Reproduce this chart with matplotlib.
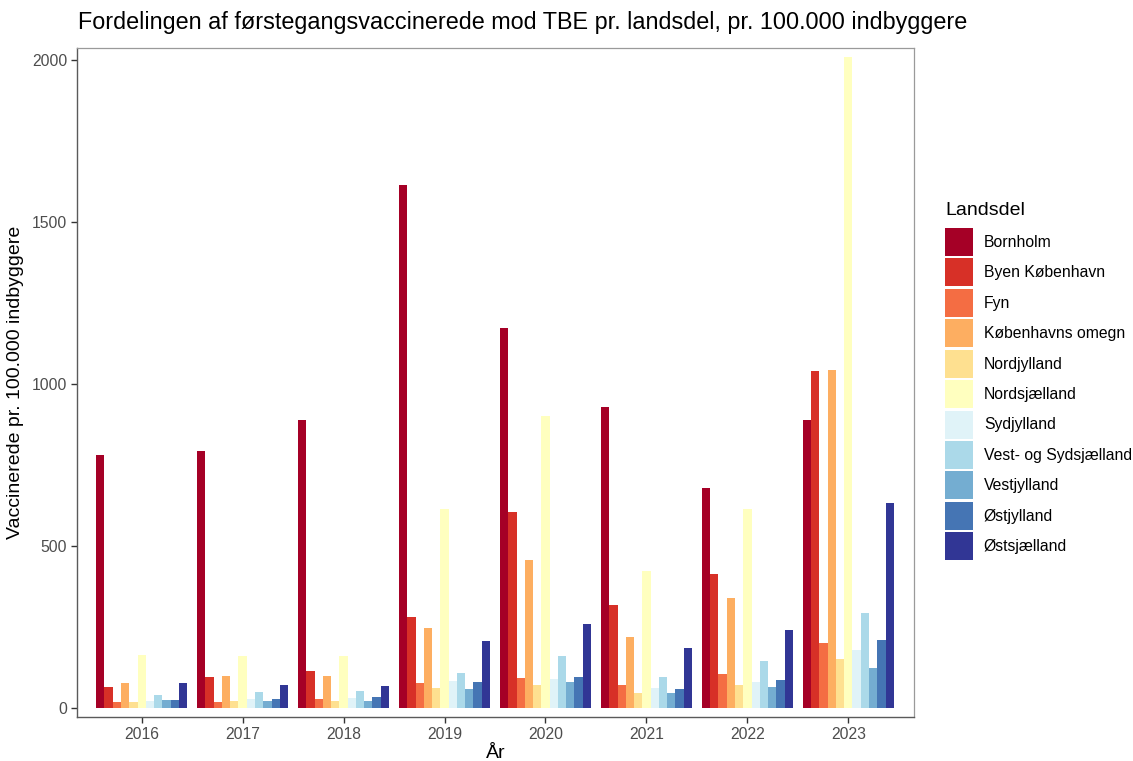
import matplotlib
matplotlib.use("Agg")
import matplotlib.pyplot as plt
import numpy as np
from matplotlib.patches import Patch

plt.rcParams['font.family'] = ['Liberation Sans', 'DejaVu Sans']

years = ["2016", "2017", "2018", "2019", "2020", "2021", "2022", "2023"]
regions = ["Bornholm", "Byen København", "Fyn", "Københavns omegn", "Nordjylland",
           "Nordsjælland", "Sydjylland", "Vest- og Sydsjælland", "Vestjylland",
           "Østjylland", "Østsjælland"]

bornholm        = [780, 792, 888, 1615, 1172, 928, 680, 890]
byen_kbh        = [65, 97, 115, 282, 605, 319, 413, 1041]
fyn             = [17, 19, 27, 78, 91, 70, 104, 199]
kbh_omegn       = [77, 98, 98, 247, 457, 218, 340, 1044]
nordjylland     = [17, 21, 22, 61, 72, 47, 72, 150]
nordsjaelland   = [162, 160, 159, 615, 901, 423, 615, 2010]
sydjylland      = [22, 29, 32, 82, 90, 63, 80, 180]
vest_sydsj      = [41, 48, 52, 108, 159, 96, 144, 292]
vestjylland     = [24, 22, 22, 59, 81, 47, 65, 123]
ostjylland      = [24, 27, 34, 81, 94, 57, 86, 209]
ostsjaelland    = [78, 71, 69, 208, 260, 186, 240, 632]

series = [bornholm, byen_kbh, fyn, kbh_omegn, nordjylland, nordsjaelland,
          sydjylland, vest_sydsj, vestjylland, ostjylland, ostsjaelland]

colors = ["#a50026", "#d73027", "#f46d43", "#fdae61", "#fee090", "#ffffbf",
          "#e0f3f8", "#abd9e9", "#74add1", "#4575b4", "#313695"]

fig = plt.figure(figsize=(11.33, 7.61), dpi=100)
ax = fig.add_axes([0.068, 0.0578, 0.7387, 0.8791])

x = np.arange(1, len(years) + 1)
n = len(regions)
w = 0.9 / n
for i, (vals, c) in enumerate(zip(series, colors)):
    ax.bar(x - 0.45 + w * (i + 0.5), vals, width=w, color=c, linewidth=0)

ax.set_xlim(1 - 0.64, len(years) + 0.65)
ax.set_ylim(-28, 2037)
ax.set_xticks(x)
ax.set_xticklabels(years)
ax.set_yticks([0, 500, 1000, 1500, 2000])
ax.tick_params(axis='both', colors='#333333', labelcolor='#4d4d4d', labelsize=11.3,
               length=4, width=1, pad=3)

for s in ['left', 'bottom']:
    ax.spines[s].set_color('#5a5a5a')
    ax.spines[s].set_linewidth(1.0)
for s in ['top', 'right']:
    ax.spines[s].set_color('#9a9a9a')
    ax.spines[s].set_linewidth(0.9)

ax.set_xlabel("År", fontsize=14, color='black', labelpad=2)
ax.set_ylabel("Vaccinerede pr. 100.000 indbyggere", fontsize=14, color='black', labelpad=6)

fig.text(78 / 1133, 1 - 22 / 761, "Fordelingen af førstegangsvaccinerede mod TBE pr. landsdel, pr. 100.000 indbyggere",
         fontsize=16.8, va='center', ha='left')

handles = [Patch(facecolor=c, edgecolor='none') for c in colors]
leg = fig.legend(handles, regions, loc='upper left',
                 bbox_to_anchor=(945 / 1133, 1 - 202 / 761),
                 frameon=False, fontsize=11.3, title="Landsdel", title_fontsize=14,
                 handlelength=1.78, handleheight=2.36, labelspacing=0.16,
                 handletextpad=0.7, borderaxespad=0, borderpad=0)
leg._legend_box.align = "left"
leg._legend_box.sep = 6.5

fig.savefig("out.png", dpi=100)
